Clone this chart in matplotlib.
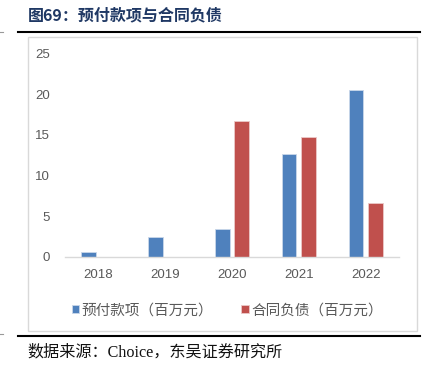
import matplotlib.pyplot as plt
import numpy as np
from matplotlib.lines import Line2D
from matplotlib.patches import Rectangle

# data
years = ["2018", "2019", "2020", "2021", "2022"]
prepaid = [0.6, 2.4, 3.4, 12.7, 20.5]       # 预付款项（百万元）
contract = [0.0, 0.0, 16.7, 14.8, 6.6]      # 合同负债（百万元）
yticks = [0, 5, 10, 15, 20, 25]

cjk = ["Noto Sans CJK SC", "DejaVu Sans"]
plt.rcParams["font.family"] = cjk

fig = plt.figure(figsize=(4.27, 3.69), dpi=100)

# page decorations: title, rules, frame, source
fig.text(0.066, 0.958, "图69：预付款项与合同负债", fontsize=11.5, fontweight="bold",
         color="#1f3864", va="center", ha="left")
fig.add_artist(Line2D([0.042, 0.984], [0.9125, 0.9125], color="black", lw=1.5))
fig.add_artist(Line2D([0.042, 0.984], [0.0902, 0.0902], color="black", lw=1.5))
fig.add_artist(Line2D([0.0, 0.006], [0.913, 0.913], color="#999999", lw=0.8))
fig.add_artist(Line2D([0.0, 0.006], [0.095, 0.095], color="#999999", lw=0.8))
fig.add_artist(Rectangle((0.0656, 0.103), 0.911, 0.7976, transform=fig.transFigure,
                         fill=False, edgecolor="#d9d9d9", lw=1.0))
fig.text(0.064, 0.044, "数据来源：Choice，东吴证券研究所", fontsize=11.6,
         family=["Liberation Serif", "Noto Sans CJK SC"], color="#111111",
         va="center", ha="left")

ax = fig.add_axes([0.1522, 0.3043, 0.7822, 0.5501])
x = np.arange(len(years))
w = 0.22
off = 0.145
ax.bar(x - off, prepaid, w, color="#4f81bd", edgecolor="#c9d7ea", lw=0.6,
       label="预付款项（百万元）")
ax.bar(x + off, contract, w, color="#c0504d", edgecolor="#ebc9c8", lw=0.6,
       label="合同负债（百万元）")

ax.set_xlim(-0.5, len(years) - 0.5)
ax.set_ylim(0, 25)
ax.set_xticks(x)
ax.set_xticklabels(years)
ax.set_yticks(yticks)
for s in ["top", "right", "left"]:
    ax.spines[s].set_visible(False)
ax.spines["bottom"].set_color("#d9d9d9")
ax.spines["bottom"].set_linewidth(1.0)
ax.tick_params(axis="both", length=0, labelsize=9.5, labelcolor="#595959")
ax.tick_params(axis="x", pad=9)
ax.tick_params(axis="y", pad=11)
for lab in ax.get_xticklabels() + ax.get_yticklabels():
    lab.set_family(["Liberation Sans"])

ax.legend(loc="center left", bbox_to_anchor=(0.02, -0.263), ncol=2, frameon=False,
          fontsize=10.5, labelcolor="#595959", handlelength=0.5, handleheight=0.5,
          handletextpad=0.2, columnspacing=1.9, borderaxespad=0, borderpad=0)

fig.savefig("out.png", dpi=100)
